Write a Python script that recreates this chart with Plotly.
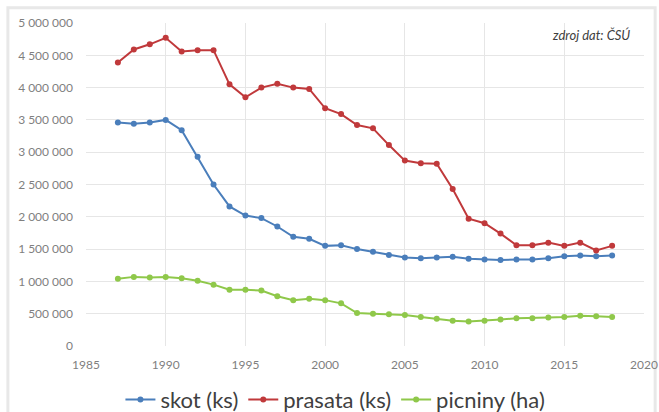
import plotly.graph_objects as go

years = list(range(1987, 2019))

skot = [3.46, 3.44, 3.46, 3.50, 3.34, 2.93, 2.50, 2.16, 2.02, 1.98, 1.85, 1.69, 1.66, 1.55, 1.56, 1.50,
        1.46, 1.41, 1.37, 1.36, 1.37, 1.38, 1.35, 1.34, 1.33, 1.34, 1.34, 1.36, 1.39, 1.40, 1.39, 1.40]
prasata = [4.39, 4.59, 4.67, 4.77, 4.56, 4.58, 4.58, 4.05, 3.85, 4.00, 4.06, 4.00, 3.98, 3.68, 3.59, 3.42,
           3.37, 3.11, 2.87, 2.83, 2.82, 2.43, 1.97, 1.90, 1.74, 1.56, 1.56, 1.60, 1.55, 1.60, 1.48, 1.55]
picniny = [1.04, 1.07, 1.06, 1.07, 1.05, 1.01, 0.95, 0.87, 0.87, 0.86, 0.77, 0.71, 0.73, 0.71, 0.66, 0.51,
           0.50, 0.49, 0.48, 0.45, 0.42, 0.39, 0.38, 0.39, 0.41, 0.43, 0.43, 0.44, 0.45, 0.47, 0.46, 0.45]

series_names = ["skot (ks)", "prasata (ks)", "picniny (ha)"]
series_values = [skot, prasata, picniny]
colors = ["#4a7ebb", "#c0393b", "#8fc84a"]

fig = go.Figure()
for name, vals, col in zip(series_names, series_values, colors):
    fig.add_trace(go.Scatter(
        x=years, y=[v * 1e6 for v in vals], name=name, mode="lines+markers",
        line=dict(color=col, width=2), marker=dict(color=col, size=6),
    ))

fig.add_annotation(text="<i>zdroj dat: ČSÚ</i>", xref="paper", yref="paper", x=0.978, y=0.963,
                   xanchor="right", yanchor="middle", showarrow=False,
                   font=dict(family="Lato", size=13, color="#404040"))

fig.update_layout(
    width=659, height=412,
    margin=dict(l=86, r=15, t=23, b=66, autoexpand=False),
    paper_bgcolor="white", plot_bgcolor="white",
    separators=", ",
    font=dict(family="Lato", color="#7f7f7f"),
    showlegend=True,
    legend=dict(orientation="h", x=0.447, xanchor="center", y=-0.166, yanchor="middle",
                font=dict(size=22, color="#404040"), itemwidth=30, traceorder="normal"),
    xaxis=dict(range=[1985, 2020], dtick=5, tick0=1985, showgrid=True, gridcolor="#e6e6e6",
               zeroline=False, showline=False, tickfont=dict(size=12, color="#7f7f7f"), ticks="",
               ticklabelstandoff=10),
    yaxis=dict(range=[0, 5e6], dtick=5e5, showgrid=True, gridcolor="#e6e6e6", tickformat=",d",
               zeroline=False, showline=False, tickfont=dict(size=12, color="#7f7f7f"),
               ticks="", ticklabelstandoff=12),
    shapes=[dict(type="rect", xref="paper", yref="paper", x0=-0.14, x1=1.02, y0=-0.25, y1=1.047,
                 line=dict(color="#e8e8e8", width=3), layer="below")],
)

fig.write_html("out.html")
